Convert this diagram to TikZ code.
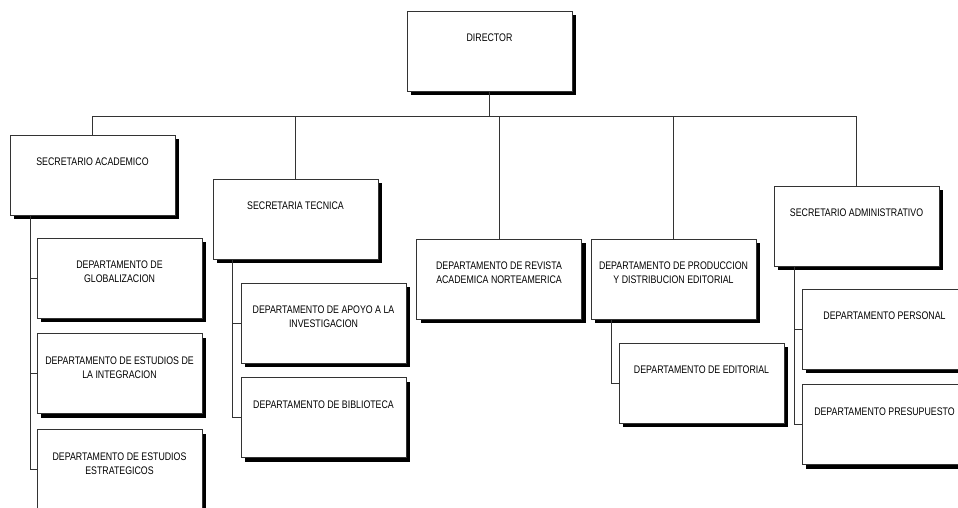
\documentclass[tikz,border=0pt]{standalone}
\usepackage{fontspec}
\setmainfont{Liberation Sans}[FakeStretch=0.8]
\usepackage{tikz}
\usetikzlibrary{positioning, shadows}
\tikzset{OrgBox/.style={%
    shape=rectangle,%
    draw=black!80,%
    fill=white,%
    line width=0.8pt,%
    minimum width=165pt,%
    minimum height=80pt,%
    inner sep=0pt,%
    font=\fontsize{11pt}{14pt}\selectfont,%
    drop shadow={shadow xshift=4pt, shadow yshift=-4pt, fill=black, opacity=1},%
}}
\tikzset{OrgLink/.style={%
    draw=black!80,%
    line width=0.8pt,%
}}
\NewDocumentCommand{\boxText}{m}{%
    \parbox[c][80pt][t]{160pt}{\centering\vspace*{23pt}#1}%
}

\begin{document}
\begin{tikzpicture}[x=1pt, y=-1pt]
    \useasboundingbox (0,0) rectangle (958,508);

    \coordinate (bar) at (489.5,116);

    \node[OrgBox] (dir) at (489.5,51) {\boxText{DIRECTOR}};
    \node[OrgBox] (acad) at (92.5,175) {\boxText{SECRETARIO ACADEMICO}};
    \node[OrgBox] (tec) at (295.5,219) {\boxText{SECRETARIA TECNICA}};
    \node[OrgBox] (rev) at (499,279) {\boxText{DEPARTAMENTO DE REVISTA\\ACADEMICA NORTEAMERICA}};
    \node[OrgBox] (prod) at (673.5,279) {\boxText{DEPARTAMENTO DE PRODUCCION\\Y DISTRIBUCION EDITORIAL}};
    \node[OrgBox] (adm) at (856.5,226) {\boxText{SECRETARIO ADMINISTRATIVO}};

    \node[OrgBox] (glob) at (119.5,278) {\boxText{DEPARTAMENTO DE\\GLOBALIZACION}};
    \node[OrgBox, below=15pt of glob] (integ) {\boxText{DEPARTAMENTO DE ESTUDIOS DE\\LA INTEGRACION}};
    \node[OrgBox, below=15pt of integ] (estr) {\boxText{DEPARTAMENTO DE ESTUDIOS\\ESTRATEGICOS}};
    \node[OrgBox] (apoyo) at (323.5,323) {\boxText{DEPARTAMENTO DE APOYO A LA\\INVESTIGACION}};
    \node[OrgBox, below=14pt of apoyo] (bibl) {\boxText{DEPARTAMENTO DE BIBLIOTECA}};
    \node[OrgBox] (edit) at (701.5,383) {\boxText{DEPARTAMENTO DE EDITORIAL}};
    \node[OrgBox] (pers) at (884.5,329) {\boxText{DEPARTAMENTO PERSONAL}};
    \node[OrgBox, below=15pt of pers] (presu) {\boxText{DEPARTAMENTO PRESUPUESTO}};

    % top level links
    \draw[OrgLink] (dir.south) -- (bar);
    \draw[OrgLink] (acad.north) |- (bar);
    \draw[OrgLink] (tec.north) |- (bar);
    \draw[OrgLink] (rev.north) |- (bar);
    \draw[OrgLink] (prod.north) |- (bar);
    \draw[OrgLink] (adm.north) |- (bar);
    % departments
    \draw[OrgLink] ([xshift=21pt]acad.south west) |- (glob.west);
    \draw[OrgLink] ([xshift=21pt]acad.south west) |- (integ.west);
    \draw[OrgLink] ([xshift=21pt]acad.south west) |- (estr.west);
    \draw[OrgLink] ([xshift=20pt]tec.south west) |- (apoyo.west);
    \draw[OrgLink] ([xshift=20pt]tec.south west) |- (bibl.west);
    \draw[OrgLink] ([xshift=21pt]prod.south west) |- (edit.west);
    \draw[OrgLink] ([xshift=21pt]adm.south west) |- (pers.west);
    \draw[OrgLink] ([xshift=21pt]adm.south west) |- (presu.west);
\end{tikzpicture}
\end{document}
